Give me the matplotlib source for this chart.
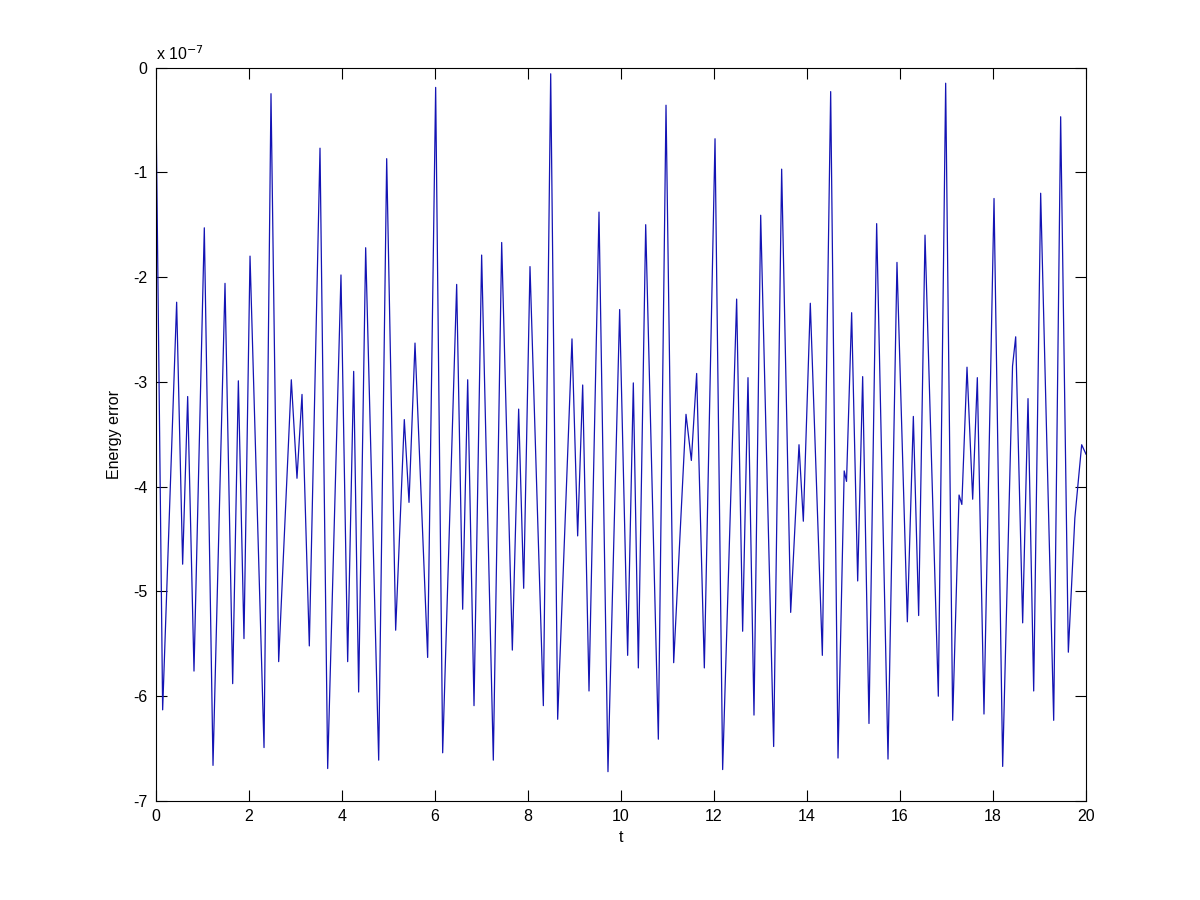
import matplotlib
matplotlib.use('Agg')
import matplotlib.pyplot as plt

# extrema (and a few shoulder points), energy error in units of 1e-7
t = [0.0, 0.143, 0.444, 0.573, 0.681, 0.817, 1.039, 1.226, 1.484, 1.649, 1.771, 1.892,
     2.022, 2.323, 2.473, 2.638, 2.910, 3.032, 3.140, 3.297, 3.527, 3.692, 3.978, 4.122,
     4.251, 4.358, 4.509, 4.789, 4.961, 5.154, 5.340, 5.441, 5.570, 5.842, 6.014, 6.165,
     6.466, 6.595, 6.703, 6.839, 7.003, 7.254, 7.434, 7.663, 7.799, 7.907, 8.043, 8.330,
     8.488, 8.638, 8.946, 9.068, 9.176, 9.312, 9.527, 9.720, 9.971, 10.143, 10.265, 10.373,
     10.531, 10.803, 10.968, 11.133, 11.398, 11.513, 11.627, 11.792, 12.022, 12.186, 12.487,
     12.616, 12.731, 12.860, 13.004, 13.283, 13.455, 13.649, 13.828, 13.921, 14.071, 14.330,
     14.509, 14.667, 14.800, 14.850, 14.960, 15.090, 15.197, 15.333, 15.498, 15.742, 15.935,
     16.158, 16.287, 16.401, 16.538, 16.824, 16.982, 17.133, 17.270, 17.330, 17.441, 17.563,
     17.663, 17.806, 18.022, 18.208, 18.420, 18.488, 18.638, 18.753, 18.875, 19.025, 19.305,
     19.455, 19.620, 19.760, 19.907, 20.0]
err = [-0.35, -6.13, -2.24, -4.74, -3.14, -5.76, -1.53, -6.66, -2.06, -5.88, -2.99, -5.45,
       -1.80, -6.49, -0.25, -5.67, -2.98, -3.92, -3.12, -5.52, -0.77, -6.69, -1.98, -5.67,
       -2.90, -5.96, -1.72, -6.61, -0.87, -5.37, -3.36, -4.15, -2.63, -5.63, -0.19, -6.54,
       -2.07, -5.17, -2.98, -6.09, -1.79, -6.61, -1.67, -5.56, -3.26, -4.97, -1.90, -6.09,
       -0.06, -6.22, -2.59, -4.47, -3.03, -5.95, -1.38, -6.72, -2.31, -5.61, -3.01, -5.73,
       -1.50, -6.41, -0.36, -5.68, -3.31, -3.75, -2.92, -5.73, -0.68, -6.70, -2.21,
       -5.38, -2.96, -6.18, -1.41, -6.48, -0.97, -5.20, -3.60, -4.33, -2.25, -5.61,
       -0.23, -6.59, -3.85, -3.95, -2.34, -4.90, -2.95, -6.26, -1.49, -6.60, -1.86,
       -5.29, -3.33, -5.23, -1.60, -6.00, -0.15, -6.23, -4.08, -4.17, -2.86, -4.12,
       -2.96, -6.17, -1.25, -6.67, -2.85, -2.57, -5.30, -3.16, -5.95, -1.20, -6.23,
       -0.47, -5.58, -4.30, -3.60, -3.69]

plt.rcParams['font.family'] = ['Liberation Sans', 'DejaVu Sans']
plt.rcParams['font.size'] = 11.5
plt.rcParams['axes.unicode_minus'] = False

fig = plt.figure(figsize=(12, 9), dpi=100)
ax = fig.add_axes([0.13, 0.11, 0.775, 0.815])
ax.plot(t, err, color='#1414b4', linewidth=0.9)

ax.set_xlim(0, 20)
ax.set_ylim(-7, 0)
ax.set_xticks(range(0, 21, 2))
ax.set_yticks(range(-7, 1))
ax.tick_params(direction='in', top=True, right=True, length=8, width=0.8, pad=6)
for s in ax.spines.values():
    s.set_linewidth(0.8)

ax.text(0.0, 1.006, r'x 10$^{-7}$', transform=ax.transAxes, ha='left', va='bottom')
ax.set_xlabel('t', labelpad=4)
ax.set_ylabel('Energy error', labelpad=8)

fig.savefig('out.png', dpi=100, facecolor='white')
